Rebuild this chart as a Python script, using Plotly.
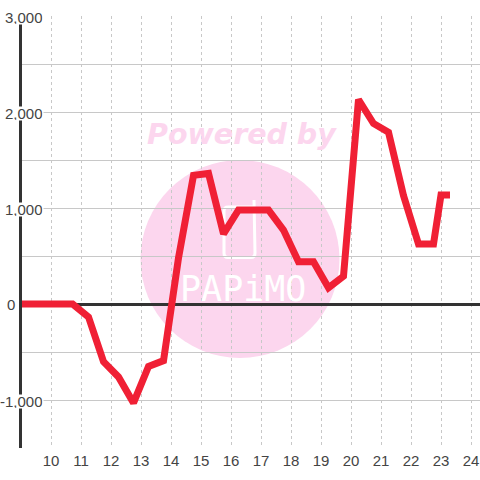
import plotly.graph_objects as go

hours = [8.87, 10.72, 11.25, 11.75, 12.25, 12.75, 13.25, 13.75, 14.25, 14.75, 15.25, 15.75,
         16.25, 16.75, 17.25, 17.75, 18.25, 18.75, 19.25, 19.75, 20.25, 20.75, 21.25, 21.75,
         22.25, 22.75, 23.0, 23.3]
values = [0, 0, -135, -600, -760, -1030, -650, -590, 480, 1340, 1360, 730,
          980, 980, 980, 770, 440, 440, 170, 290, 2130, 1880, 1790, 1130,
          625, 625, 1135, 1135]
x_ticks = list(range(10, 25))
y_grid = [-1500, -1000, -500, 0, 500, 1000, 1500, 2000, 2500, 3000]
y_label_vals = [3000, 2000, 1000, -1000]
y_label_text = ["3,000", "2,000", "1,000", "-1,000"]

L, R, T, B = 22, 480, 16, 448
PINK = "#fcd6ee"
FONT = "Liberation Sans, Arial, sans-serif"


def px(v):
    return (v - L) / (R - L)


def py(v):
    return (B - v) / (B - T)


fig = go.Figure(go.Scatter(x=hours, y=values, mode="lines", cliponaxis=False,
                           line=dict(color="#f02035", width=7, shape="linear"),
                           hoverinfo="skip"))

shapes = [
    dict(type="circle", xref="paper", yref="paper", layer="below",
         x0=px(140.5), x1=px(339.5), y0=py(358), y1=py(160),
         fillcolor=PINK, line_width=0),
    dict(type="path", xref="paper", yref="paper", layer="below",
         path=(f"M {px(254)} {py(207)} L {px(228)} {py(207)} Q {px(224)} {py(207)} {px(224)} {py(211)} "
               f"L {px(224)} {py(253)} Q {px(224)} {py(257.5)} {px(228)} {py(257.5)} L {px(251)} {py(257.5)} "
               f"Q {px(255)} {py(257.5)} {px(255)} {py(253)} L {px(254)} {py(200)}"),
         fillcolor="rgba(0,0,0,0)", line=dict(color="white", width=3)),
]

annotations = [
    dict(text="<b><i>Powered by</i></b>", xref="paper", yref="paper", x=px(241.5), y=py(134.5),
         yanchor="middle", showarrow=False, font=dict(family="DejaVu Sans", size=28.5, color=PINK)),
    dict(text="PAPiMO", xref="paper", yref="paper", x=px(243), y=py(289), yanchor="middle",
         showarrow=False, font=dict(family="DejaVu Sans Mono", size=35, color="white")),
]
for v, t in zip(y_label_vals, y_label_text):
    annotations.append(dict(text=t, xref="paper", yref="y", x=px(44), y=v, xanchor="right",
                            yshift=-1, showarrow=False, bgcolor="white", height=13, borderpad=0,
                            font=dict(family=FONT, size=15, color="#444")))
annotations.append(dict(text="0", xref="paper", yref="y", x=px(16), y=0, xanchor="right",
                        showarrow=False, borderpad=0,
                        font=dict(family=FONT, size=15, color="#444")))

fig.update_layout(
    width=480, height=480, autosize=False,
    margin=dict(l=L, r=480 - R, t=T, b=480 - B),
    paper_bgcolor="white", plot_bgcolor="rgba(0,0,0,0)",
    showlegend=False, shapes=shapes, annotations=annotations,
    font=dict(family=FONT, size=14, color="#444"),
    xaxis=dict(range=[9.033, 24.3], tickmode="array", tickvals=x_ticks, ticks="",
               showgrid=True, gridcolor="#c8c8c8", griddash="3px,3px", gridwidth=1,
               zeroline=False, showline=False, tickfont=dict(family=FONT, size=15, color="#444"),
               ticklabelstandoff=2),
    yaxis=dict(range=[-1500, 3000], tickmode="array", tickvals=y_grid, showticklabels=False, ticks="",
               showgrid=True, gridcolor="#c8c8c8", gridwidth=1,
               zeroline=True, zerolinecolor="#333", zerolinewidth=3,
               showline=True, linecolor="#333", linewidth=3),
)
fig.write_html("out.html", config={"displayModeBar": False},
               post_script="document.body.style.margin='0';")
